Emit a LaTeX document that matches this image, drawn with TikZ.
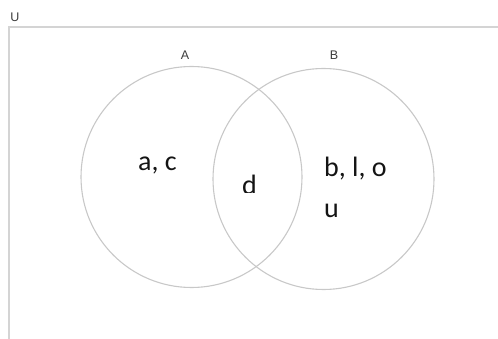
\documentclass[tikz,border=0pt]{standalone}
\usepackage{fontspec}
\setmainfont{Carlito}
\newfontfamily\lblfont{Liberation Sans}
\definecolor{vnline}{RGB}{200,200,200}
\definecolor{vnframe}{RGB}{212,212,212}
\definecolor{vntext}{RGB}{20,20,20}
\definecolor{vnlabel}{RGB}{60,60,60}
\usetikzlibrary{positioning}

\begin{document}
\begin{tikzpicture}[x=1pt, y=-1pt,
    setcirc/.style={circle, draw=vnline, line width=1.1pt, minimum size=221pt, inner sep=0pt},
    setlbl/.style={font=\lblfont\fontsize{12.5}{14}\selectfont, text=vnlabel, inner sep=0pt},
    elem/.style={font=\fontsize{28}{32}\selectfont, text=vntext, inner sep=0pt, anchor=base west}
  ]
    \useasboundingbox (0,0) rectangle (498,339);

    % Universe frame
    \coordinate (ucorner) at (9,27);
    \coordinate (uright) at (498,27);
    \coordinate (ubottom) at (9,339);
    \draw[vnframe, line width=1.6pt] (ubottom) -- (ucorner) -- (uright);
    \node[setlbl] (labU) at (15,17) {U};

    % Sets
    \node[setcirc] (setA) at (191.5,177) {};
    \node[setcirc] (setB) at (323.5,179) {};
    \node[setlbl] (labA) at (185,55) {A};
    \node[setlbl] (labB) at (334,55) {B};

    % Elements
    \node[elem] (onlyA) at (138,171) {a, c};
    \node[elem] (onlyB) at (324,177) {b, l, o};
    \node[elem] (moreB) at (324,218) {u};
    \begin{scope}
      \clip (230,160) rectangle (270,193);
      \node[elem] (both) at (242,195) {d};
    \end{scope}
\end{tikzpicture}
\end{document}
